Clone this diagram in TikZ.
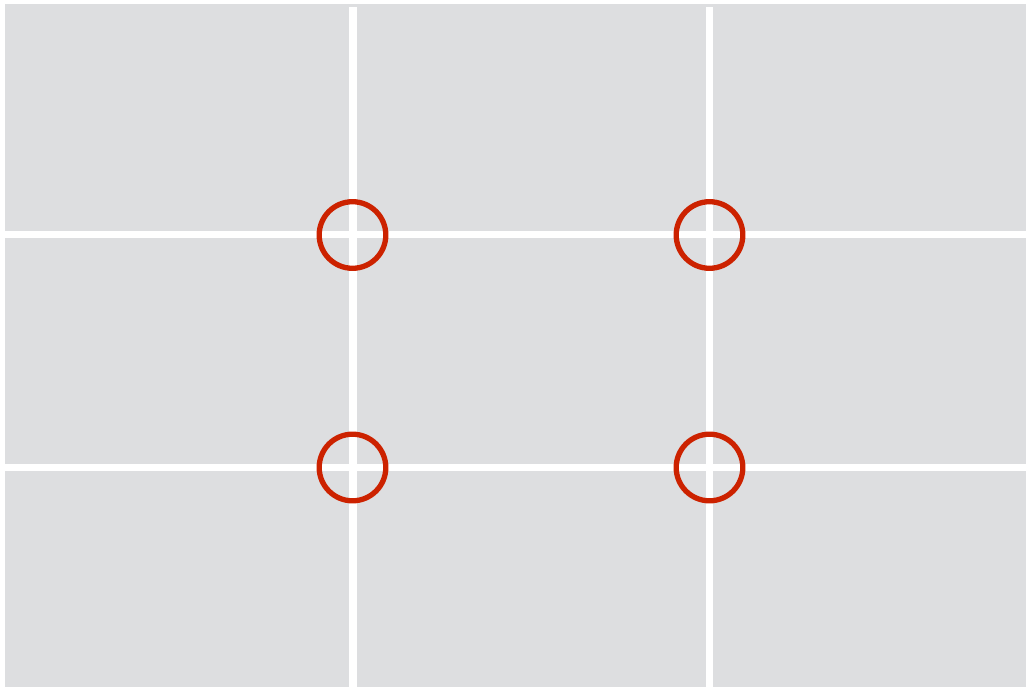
\documentclass[tikz,border=0pt]{standalone}
\usepackage{tikz}
\definecolor{panel}{HTML}{DDDEE0}
\definecolor{ringred}{HTML}{CC2200}
\tikzset{sc/.style={x=1pt,y=-1pt,line width=.5pt}}

\begin{document}
\begin{tikzpicture}[sc]
  \useasboundingbox (0,0) rectangle (1026,688);
  \fill[panel] (4.5,4) rectangle (1026,687);
  \foreach \x in {353,709.5}{\draw[white,line width=7.5pt] (\x,7) -- (\x,687);}
  \foreach \y in {234.5,467}{\draw[white,line width=7pt] (4.5,\y) -- (1026,\y);}
  \foreach \x/\y in {352.5/235,709.5/235,352.5/467.5,709.5/467.5}{\draw[ringred,line width=5.3pt](\x,\y) circle(33.3);}
\end{tikzpicture}
\end{document}
